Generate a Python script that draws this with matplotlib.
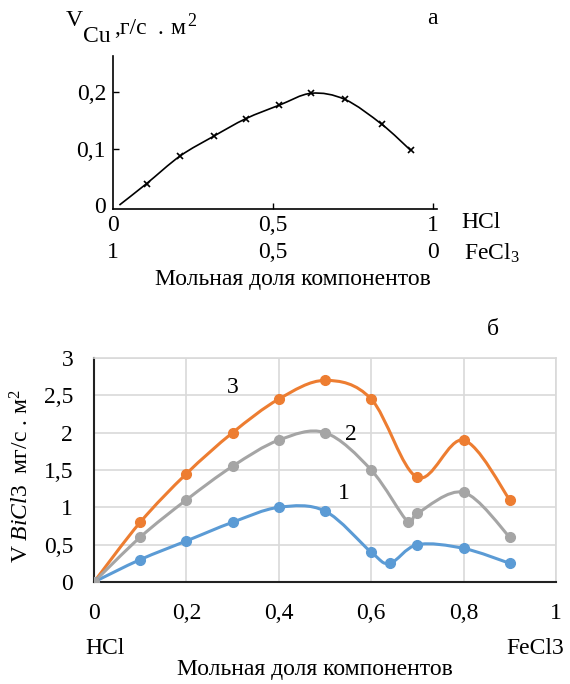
import numpy as np
import matplotlib
matplotlib.use("Agg")
import matplotlib.pyplot as plt
from matplotlib.path import Path
from matplotlib.patches import PathPatch
from matplotlib.ticker import FuncFormatter

plt.rcParams['font.family'] = ['Liberation Serif', 'DejaVu Serif']
plt.rcParams['mathtext.fontset'] = 'custom'
plt.rcParams['mathtext.rm'] = 'Liberation Serif'
plt.rcParams['mathtext.it'] = 'Liberation Serif:italic'

# --- (а) copper dissolution rate vs HCl mole fraction ---
cu_x = [0.02, 0.105, 0.21, 0.315, 0.415, 0.52, 0.62, 0.725, 0.84, 0.93]
cu_y = [0.0, 0.038, 0.087, 0.122, 0.153, 0.177, 0.198, 0.187, 0.143, 0.097]

# --- (б) BiCl3 rate, three curves ---
s1_x = [0, 0.1, 0.2, 0.3, 0.4, 0.5, 0.6, 0.64, 0.7, 0.8, 0.9]
s1_y = [0, 0.3, 0.55, 0.8, 1.0, 0.95, 0.4, 0.25, 0.5, 0.45, 0.25]
s2_x = [0, 0.1, 0.2, 0.3, 0.4, 0.5, 0.6, 0.68, 0.7, 0.8, 0.9]
s2_y = [0, 0.6, 1.1, 1.55, 1.9, 2.0, 1.5, 0.8, 0.92, 1.2, 0.6]
s3_x = [0, 0.1, 0.2, 0.3, 0.4, 0.5, 0.6, 0.7, 0.8, 0.9]
s3_y = [0, 0.8, 1.45, 2.0, 2.45, 2.7, 2.45, 1.4, 1.9, 1.1]
series_labels = ['1', '2', '3']

W, H = 570, 684
FS = 17
fig = plt.figure(figsize=(W / 100, H / 100), dpi=100)


def fpos(x, y):
    return x / W, 1 - y / H


def smooth_path(xs, ys, k=1 / 6):
    """Cubic Bezier path through the points (Catmull-Rom style control points)."""
    p = np.column_stack([xs, ys]).astype(float)
    n = len(p)
    verts = [p[0]]
    codes = [Path.MOVETO]
    for i in range(n - 1):
        p0 = p[i - 1] if i > 0 else p[i]
        p1, p2 = p[i], p[i + 1]
        p3 = p[i + 2] if i + 2 < n else p[i + 1]
        c1 = p1 + (p2 - p0) * k
        c2 = p2 - (p3 - p1) * k
        verts += [c1, c2, p2]
        codes += [Path.CURVE4] * 3
    return Path(verts, codes)


def comma(v, pos):
    return f"{v:g}".replace('.', ',')


# ---------------- top chart ----------------
l, b = fpos(113, 209)
r, t = fpos(437, 56)
ax1 = fig.add_axes([l, b, r - l, t - b])
ax1.set_xlim(0, 1.0125)
ax1.set_ylim(-0.007, 0.264)
for s in ('top', 'right'):
    ax1.spines[s].set_visible(False)
for s in ('left', 'bottom'):
    ax1.spines[s].set_linewidth(1.2)
    ax1.spines[s].set_color('black')
ax1.add_patch(PathPatch(smooth_path(cu_x, cu_y), facecolor='none',
                        edgecolor='black', lw=1.2, transform=ax1.transData))
ax1.plot(cu_x[1:], cu_y[1:], ls='none', marker='x', ms=4, mew=1.2, color='black')
ax1.set_xticks([0, 0.5, 1])
ax1.set_yticks([0, 0.1, 0.2])
ax1.xaxis.set_major_formatter(FuncFormatter(comma))
ax1.yaxis.set_major_formatter(FuncFormatter(comma))
ax1.tick_params(axis='both', direction='in', length=4, width=1, labelsize=FS, pad=5)
ax1.tick_params(axis='x', pad=4)
ax1.xaxis.get_major_ticks()[0].tick1line.set_visible(False)
ax1.yaxis.get_major_ticks()[0].tick1line.set_visible(False)

# second row of composition labels (FeCl3 fraction)
row2 = -(253 - 209) / (209 - 56)
for v, lab in zip([0, 0.5, 1], ['1', '0,5', '0']):
    ax1.text(v, row2, lab, transform=ax1.get_xaxis_transform(), fontsize=FS,
             ha='center', va='center')
fig.text(*fpos(481, 223), 'HCl', fontsize=FS, ha='center', va='center')
fig.text(*fpos(492, 253), 'FeCl$_3$', fontsize=FS, ha='center', va='center')
fig.text(*fpos(293, 279), 'Мольная доля компонентов', fontsize=FS,
         ha='center', va='center')

# axis title of the top panel
fig.text(*fpos(74, 20), 'V', fontsize=FS, ha='center', va='center')
fig.text(*fpos(97, 37), 'Cu', fontsize=FS, ha='center', va='center')
fig.text(*fpos(114, 29), ',г/с', fontsize=FS, ha='left', va='center')
fig.text(*fpos(160, 29), '.', fontsize=FS, ha='center', va='center')
fig.text(*fpos(178, 29), 'м', fontsize=FS, ha='center', va='center')
fig.text(*fpos(192, 21), '2', fontsize=FS - 4, ha='center', va='center')
fig.text(*fpos(432, 18), 'а', fontsize=FS, ha='center', va='center')

# ---------------- bottom chart ----------------
l, b = fpos(94, 582)
r, t = fpos(556, 358)
ax2 = fig.add_axes([l, b, r - l, t - b])
ax2.set_xlim(0, 1)
ax2.set_ylim(0, 3)
ax2.set_xticks(np.arange(0, 1.01, 0.2))
ax2.set_yticks(np.arange(0, 3.01, 0.5))
ax2.xaxis.set_major_formatter(FuncFormatter(comma))
ax2.yaxis.set_major_formatter(FuncFormatter(comma))
ax2.grid(True, color='#d9d9d9', lw=1.2)
ax2.set_axisbelow(True)
for s in ('top', 'right'):
    ax2.spines[s].set_color('#d9d9d9')
    ax2.spines[s].set_linewidth(1.2)
for s in ('left', 'bottom'):
    ax2.spines[s].set_color('#222222')
    ax2.spines[s].set_linewidth(1.5)
ax2.tick_params(axis='both', length=0, labelsize=FS)
ax2.tick_params(axis='x', pad=15)
ax2.tick_params(axis='y', pad=15)

colors = ['#5b9bd5', '#a5a5a5', '#ed7d31']
data = [(s1_x, s1_y), (s2_x, s2_y), (s3_x, s3_y)]
for idx in (2, 0, 1):
    xs, ys = data[idx]
    c = colors[idx]
    ax2.add_patch(PathPatch(smooth_path(xs, ys), facecolor='none', edgecolor=c,
                            lw=2.2, transform=ax2.transData, zorder=3))
    ax2.plot(xs, ys, ls='none', marker='o', ms=7, color=c, zorder=4)

ax2.text(0.30, 2.6, series_labels[2], fontsize=FS, ha='center', va='center')
ax2.text(0.555, 1.97, series_labels[1], fontsize=FS, ha='center', va='center')
ax2.text(0.54, 1.19, series_labels[0], fontsize=FS, ha='center', va='center')

fig.text(*fpos(22, 476), r'V $\it{BiCl3}$  мг/с . м$^2$', fontsize=FS,
         rotation=90, ha='center', va='center')
fig.text(*fpos(105, 648), 'HCl', fontsize=FS, ha='center', va='center')
fig.text(*fpos(535, 648), 'FeCl3', fontsize=FS, ha='center', va='center')
fig.text(*fpos(315, 669), 'Мольная доля компонентов', fontsize=FS,
         ha='center', va='center')
fig.text(*fpos(493, 330), 'б', fontsize=FS, ha='center', va='center')

fig.savefig('out.png', dpi=100, facecolor='white')
